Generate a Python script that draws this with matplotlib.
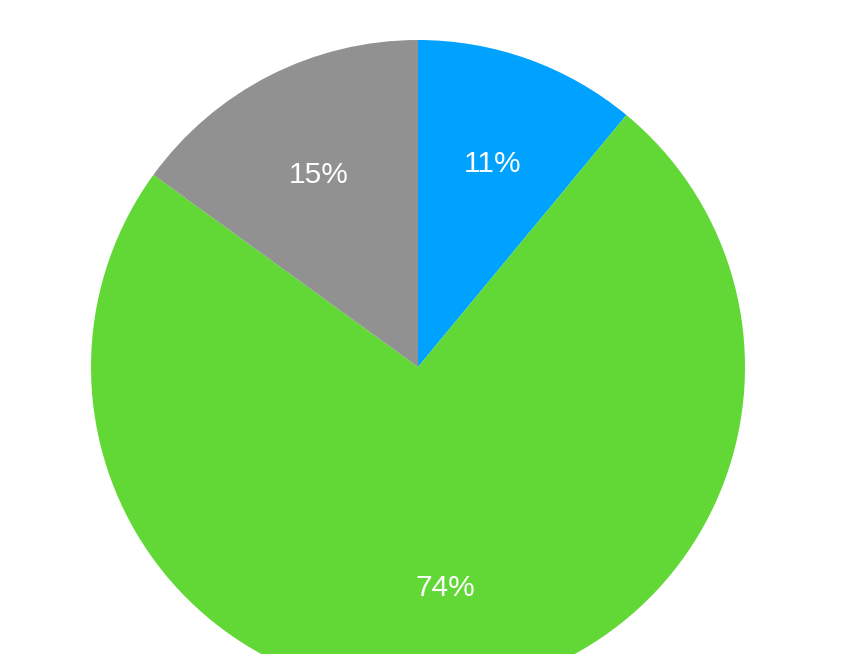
import matplotlib
matplotlib.use("Agg")
import matplotlib.pyplot as plt

# Dados do gráfico
labels = ["Azul", "Verde", "Cinza"]
values = [11, 74, 15]
colors = ["#00A2FF", "#61D836", "#919191"]

W, H = 846, 654
fig = plt.figure(figsize=(W / 100, H / 100), dpi=100)

# Centro (418, 367) px, raio 327 px -> a pizza sai pela borda de baixo
cx, cy, r = 418, H - 367, 327
ax = fig.add_axes([(cx - r) / W, (cy - r) / H, 2 * r / W, 2 * r / H])

wedges, texts, autotexts = ax.pie(
    values,
    colors=colors,
    startangle=90,
    counterclock=False,
    autopct="%d%%",
    pctdistance=0.67,
    radius=1,
    frame=False,
    textprops={"color": "white", "fontsize": 21.5, "family": "Liberation Sans"},
)
# rótulos um pouco mais baixos, como no original
for t in autotexts:
    x, y = t.get_position()
    t.set_position((x, y - 0.011))

ax.set_xlim(-1, 1)
ax.set_ylim(-1, 1)
ax.set_aspect("auto")
ax.axis("off")

fig.savefig("out.png", dpi=100)
